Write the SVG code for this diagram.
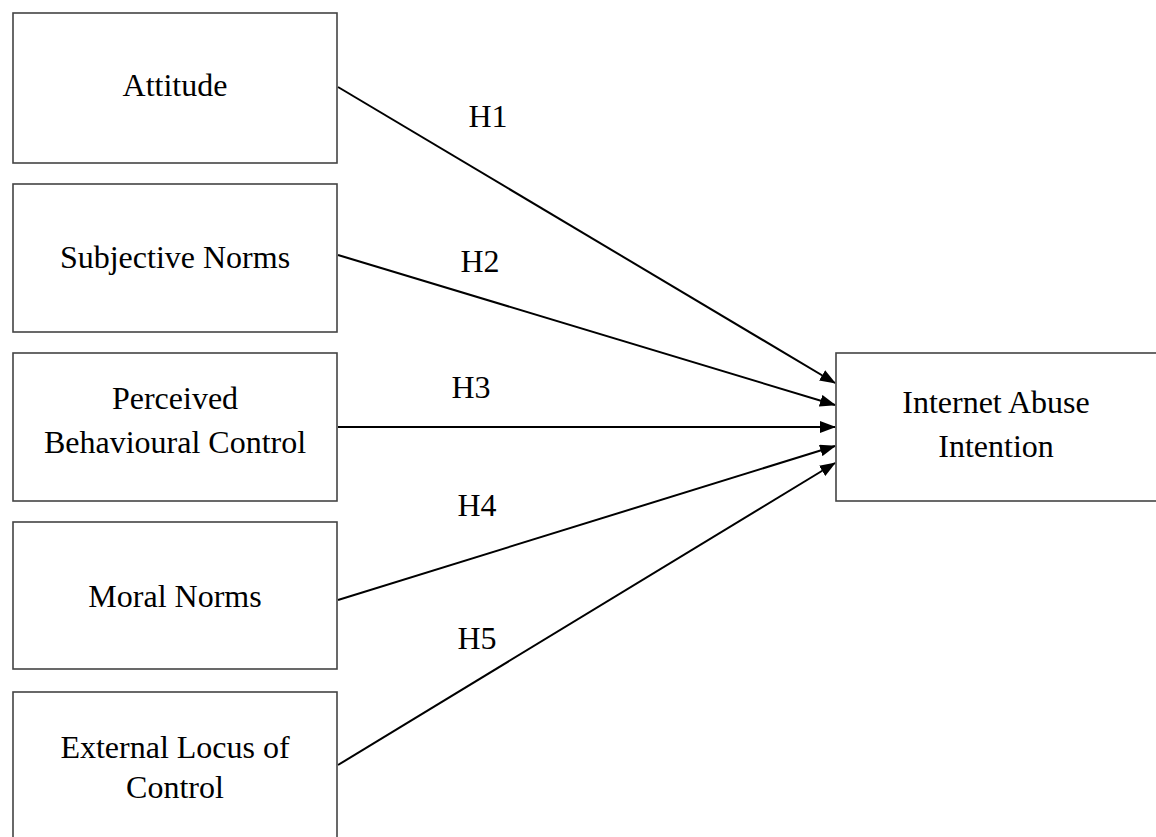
<svg xmlns="http://www.w3.org/2000/svg" width="1156" height="837" viewBox="0 0 1156 837">
<style>
.box{fill:#fff;stroke:#444;stroke-width:1.6}
.t{font-family:"Liberation Serif","Times New Roman",serif;font-size:32px;fill:#000;text-anchor:middle}
.c{stroke:#000;stroke-width:2;fill:none;marker-end:url(#ah)}
</style>
<defs>
<marker id="ah" markerWidth="16" markerHeight="12" refX="15" refY="6" orient="auto" markerUnits="userSpaceOnUse">
<path d="M0,0 L16,6 L0,12 Z" fill="#000"/>
</marker>
</defs>
<rect width="1156" height="837" fill="#fff"/>
<g id="connectors">
<line class="c" x1="338" y1="87" x2="835" y2="383"/>
<line class="c" x1="338" y1="255" x2="835" y2="405"/>
<line class="c" x1="338" y1="427" x2="835" y2="427"/>
<line class="c" x1="338" y1="600" x2="835" y2="446"/>
<line class="c" x1="338" y1="765" x2="835" y2="463"/>
<text class="t" x="488" y="127">H1</text>
<text class="t" x="480" y="272">H2</text>
<text class="t" x="471" y="398">H3</text>
<text class="t" x="477" y="516">H4</text>
<text class="t" x="477" y="649">H5</text>
</g>
<g id="attitude">
<rect class="box" x="13" y="13" width="324" height="150"/>
<text class="t" x="175" y="96">Attitude</text>
</g>
<g id="subjective-norms">
<rect class="box" x="13" y="184" width="324" height="148"/>
<text class="t" x="175" y="268">Subjective Norms</text>
</g>
<g id="pbc">
<rect class="box" x="13" y="353" width="324" height="148"/>
<text class="t" x="175" y="409">Perceived</text>
<text class="t" x="175" y="453">Behavioural Control</text>
</g>
<g id="moral-norms">
<rect class="box" x="13" y="522" width="324" height="147"/>
<text class="t" x="175" y="607">Moral Norms</text>
</g>
<g id="external-locus">
<rect class="box" x="13" y="692" width="324" height="160"/>
<text class="t" x="175" y="758">External Locus of</text>
<text class="t" x="175" y="798">Control</text>
</g>
<g id="internet-abuse-intention">
<rect class="box" x="836" y="353" width="340" height="148"/>
<text class="t" x="996" y="413">Internet Abuse</text>
<text class="t" x="996" y="457">Intention</text>
</g>
</svg>
